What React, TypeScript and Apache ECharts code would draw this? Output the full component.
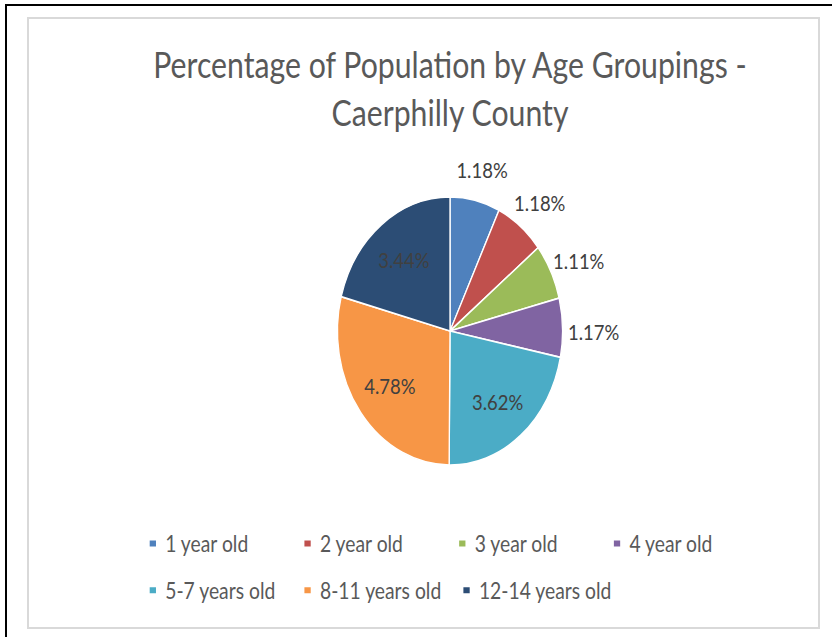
import React, { useEffect, useRef } from "react";
import * as echarts from "echarts";

const categories = [
  "1 year old",
  "2 year old",
  "3 year old",
  "4 year old",
  "5-7 years old",
  "8-11 years old",
  "12-14 years old",
];
const percentages = [1.18, 1.18, 1.11, 1.17, 3.62, 4.78, 3.44];
const sliceColors = ["#4F81BD", "#C0504D", "#9BBB59", "#8064A2", "#4BACC6", "#F79646", "#2C4D75"];
const titleLines = ["Percentage of Population by Age Groupings -", "Caerphilly County"];

const SX = 0.84; // the reference is horizontally condensed
const W = 832;
const H = 637;
const CW = W / SX;
const CX = 450 / SX;
const CY = 331;
const FONT = "Lato, 'Open Sans', sans-serif";

export default function App() {
  const ref = useRef<HTMLDivElement>(null);

  useEffect(() => {
    if (!ref.current) return;
    const chart = echarts.init(ref.current, undefined, { renderer: "svg", width: CW, height: H });
    const fmt = (p: any) => `${Number(p.value).toFixed(2)}%`;
    const labelBase = {
      position: "inside",
      formatter: fmt,
      color: "#404040",
      fontFamily: FONT,
      fontSize: 22,
    };
    chart.setOption({
      animation: false,
      backgroundColor: "transparent",
      graphic: titleLines.map((t, i) => ({
        type: "text",
        x: CX,
        y: 64 + i * 47.5,
        silent: true,
        style: {
          text: t,
          fill: "#595959",
          font: `36px ${FONT}`,
          textAlign: "center",
          textVerticalAlign: "middle",
        },
      })),
      legend: {
        data: categories,
        orient: "horizontal",
        left: 176.2,
        top: 532,
        width: 730,
        padding: 0,
        itemWidth: 9.5,
        itemHeight: 8,
        itemGap: 23.7,
        icon: "rect",
        selectedMode: false,
        textStyle: {
          fontFamily: FONT,
          fontSize: 23,
          color: "#595959",
          width: 140,
          lineHeight: 22,
          padding: [0, 0, 0, 5],
        },
      },
      series: [
        {
          name: "main",
          type: "pie",
          center: [CX, CY],
          radius: 134,
          startAngle: 90,
          clockwise: true,
          emphasis: { disabled: true },
          itemStyle: { borderColor: "#ffffff", borderWidth: 1.6 },
          label: { show: false },
          labelLine: { show: false },
          data: categories.map((c, i) => ({
            name: c,
            value: percentages[i],
            itemStyle: { color: sliceColors[i] },
          })),
        },
        {
          name: "outerLabels",
          type: "pie",
          center: [CX, CY],
          radius: [152, 184],
          startAngle: 90,
          clockwise: true,
          silent: true,
          legendHoverLink: false,
          emphasis: { disabled: true },
          itemStyle: { color: "rgba(0,0,0,0)", borderWidth: 0 },
          labelLine: { show: false },
          data: categories.map((c, i) => ({
            name: c,
            value: percentages[i],
            label: { ...labelBase, offset: [0, 5], show: percentages[i] < 2 },
          })),
        },
        {
          name: "innerLabels",
          type: "pie",
          center: [CX, CY],
          radius: [0, 174],
          startAngle: 90,
          clockwise: true,
          silent: true,
          legendHoverLink: false,
          emphasis: { disabled: true },
          itemStyle: { color: "rgba(0,0,0,0)", borderWidth: 0 },
          labelLine: { show: false },
          data: categories.map((c, i) => ({
            name: c,
            value: percentages[i],
            label: { ...labelBase, show: percentages[i] >= 2 },
          })),
        },
      ],
    });
    return () => chart.dispose();
  }, []);

  return (
    <div style={{ position: "fixed", left: 0, top: 0, width: W, height: H, overflow: "hidden", background: "#fff" }}>
      <div style={{ position: "absolute", left: 5, top: 4, width: W - 5, height: 2, background: "#000" }} />
      <div style={{ position: "absolute", left: 5, top: 4, width: 2, height: H - 4, background: "#000" }} />
      <div
        style={{
          position: "absolute",
          left: 27,
          top: 17,
          width: 793,
          height: 612,
          boxSizing: "border-box",
          border: "2px solid #d9d9d9",
        }}
      />
      <div
        ref={ref}
        style={{
          position: "absolute",
          left: 0,
          top: 0,
          width: CW,
          height: H,
          transform: `scaleX(${SX})`,
          transformOrigin: "0 0",
        }}
      />
    </div>
  );
}
